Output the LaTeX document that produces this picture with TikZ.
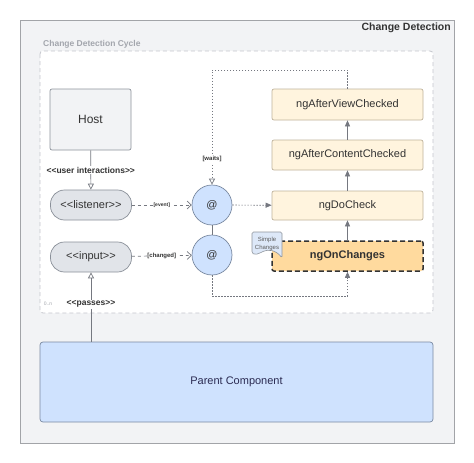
\documentclass[tikz,border=0pt]{standalone}
\usepackage{fontspec}
\setmainfont{Liberation Sans}
\usetikzlibrary{arrows.meta,positioning,calc}

\begin{document}
\begin{tikzpicture}[x=1pt,y=-1pt,
  every node/.style={font=\fontsize{11}{13}\selectfont,text=TEXTCOL},
  lifebox/.style={draw=CREAMLINE,fill=CREAM,rounded corners=2pt,minimum width=151pt,line width=.7pt},
  pill/.style={draw=PILLLINE,fill=PILLFILL,rounded corners=14pt,minimum width=81pt,minimum height=30pt,line width=.7pt},
  ring/.style={circle,draw=BLUELINE,fill=BLUEFILL,minimum size=40pt,line width=.7pt},
  tag/.style={fill=white,inner sep=1pt,font=\bfseries\fontsize{8.5}{10}\selectfont},
  tiny/.style={fill=white,inner sep=.8pt,font=\bfseries\fontsize{6}{7}\selectfont},
  conn/.style={draw=LINECOL,line width=.7pt},
  dotline/.style={dash pattern=on 1.4pt off 1.6pt}]
\definecolor{FRAMEBG}{HTML}{F2F3F5}
\definecolor{FRAMELINE}{HTML}{A2A4A8}
\definecolor{CYCLELINE}{HTML}{C4C6CC}
\definecolor{CYCLETXT}{HTML}{A3A6AD}
\definecolor{HOSTFILL}{HTML}{F2F3F5}
\definecolor{HOSTLINE}{HTML}{8E949C}
\definecolor{PILLFILL}{HTML}{E1E4E9}
\definecolor{PILLLINE}{HTML}{8A9099}
\definecolor{BLUEFILL}{HTML}{CFE2FE}
\definecolor{BLUELINE}{HTML}{7A8AA2}
\definecolor{DOCFILL}{HTML}{DDE8F8}
\definecolor{CREAM}{HTML}{FFF4DE}
\definecolor{CREAMLINE}{HTML}{BFB39C}
\definecolor{ORANGE}{HTML}{FFDA9E}
\definecolor{LINECOL}{HTML}{757880}
\definecolor{TEXTCOL}{HTML}{333333}
\useasboundingbox (0,0) rectangle (474,463);
% frames
\fill[FRAMEBG,draw=FRAMELINE,line width=.8pt] (20,20) rectangle (454,443);
\node[anchor=east,inner sep=0pt,font=\bfseries\fontsize{10.5}{12}\selectfont] (title) at (451,28) {Change Detection};
\node[anchor=west,inner sep=0pt,text=CYCLETXT,font=\bfseries\fontsize{8.5}{10}\selectfont] (cyclelbl) at (43,44) {Change Detection Cycle};
\draw[CYCLELINE,fill=white,line width=.8pt,dash pattern=on 4pt off 3pt,rounded corners=3pt] (40,51) rectangle (433,313);
% left column
\node[draw=HOSTLINE,fill=HOSTFILL,rounded corners=2pt,minimum width=81pt,minimum height=61pt,line width=.7pt,font=\fontsize{12}{14}\selectfont] (host) at (90.5,119.5) {Host};
\node[pill] (listener) at (91,205) {<{}<listener>{}>};
\node[pill] (input) at (91,257) {<{}<input>{}>};
\node[ring] (at1) at (212,205) {@};
\node[ring] (at2) at (212,255) {@};
% hooks
\node[lifebox,minimum height=31pt] (viewchk) at (347.5,104.5) {ngAfterViewChecked};
\node[lifebox,minimum height=30pt] (contentchk) at (347.5,155) {ngAfterContentChecked};
\node[lifebox,minimum height=29pt] (docheck) at (347.5,205.5) {ngDoCheck};
\node[lifebox,minimum height=30pt,fill=ORANGE,draw=TEXTCOL,line width=1.5pt,dash pattern=on 5pt off 3pt,font=\bfseries\fontsize{11}{13}\selectfont] (onchg) at (347.5,256) {ngOnChanges};
\node[draw=BLUELINE,fill=BLUEFILL,rounded corners=3pt,minimum width=393pt,minimum height=80pt,line width=.7pt,text=TEXTCOL!85!blue] (parent) at (236.5,382) {Parent Component};
% document tag
\draw[HOSTLINE,fill=DOCFILL,line width=.6pt,rounded corners=1.5pt] (252,232) -- (282,232) -- (282,258) .. controls (276,250) and (268,249) .. (262,252) .. controls (258,254) and (255,255) .. (252,253) -- cycle;
\node[align=center,inner sep=0pt,font=\fontsize{6}{8.5}\selectfont,text=TEXTCOL!80] (simplechg) at (267,244) {Simple\\Changes};
\node[font=\fontsize{5}{6}\selectfont,text=CYCLETXT,inner sep=0pt] (mult) at (48,304) {0..n};
% connectors
\draw[conn,-{Triangle[open,length=6pt,width=6pt]}] (host) -- node[tag] {<{}<user interactions>{}>} (listener);
\draw[conn,-{Triangle[open,length=6pt,width=6pt]}] (parent.north -| input.south) -- node[tag,pos=.54] {<{}<passes>{}>} (input.south);
\draw[conn,dashed,-{Straight Barb[length=4pt,width=8pt]}] (listener) -- node[tiny,font=\bfseries\fontsize{5}{6}\selectfont] {[event]} (at1);
\draw[conn,dashed,-{Straight Barb[length=4pt,width=8pt]}] (input) -- node[tiny] {[changed]} (at2);
\draw[conn] (at1) -- (at2);
\draw[conn,dotline,-{Triangle[length=6pt,width=5pt]}] (at1) -- (docheck);
\coordinate (waitsbend) at (212,70);
\coordinate (changesbend) at (212,296);
\draw[conn,dotline,-{Triangle[open,length=6pt,width=6pt]}] (viewchk.north) |- (waitsbend) -- node[tiny,pos=.78] {[waits]} (at1.north);
\draw[conn,dotline,-{Triangle[length=6pt,width=5pt]}] (at2.south) -- (changesbend) -| (onchg.south);
\foreach \p/\q in {onchg/docheck,docheck/contentchk,contentchk/viewchk}{\draw[conn,-{Triangle[length=6pt,width=5pt]}] (\p) -- (\q);}
\end{tikzpicture}
\end{document}
